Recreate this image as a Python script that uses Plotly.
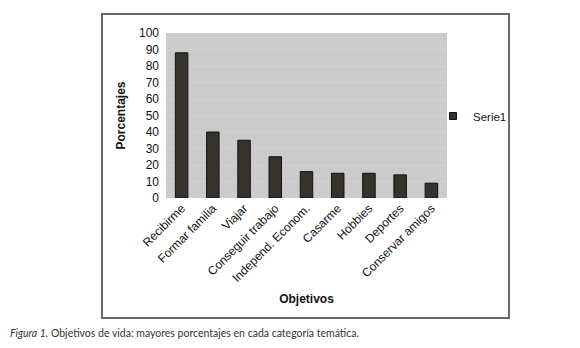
import plotly.graph_objects as go

categorias = ["Recibirme", "Formar familia", "Viajar", "Conseguir trabajo",
              "Independ. Econom.", "Casarme", "Hobbies", "Deportes", "Conservar amigos"]
valores = [88, 40, 35, 25, 16, 15, 15, 14, 9]
y_ticks = [0, 10, 20, 30, 40, 50, 60, 70, 80, 90, 100]
serie = "Serie1"

# page body has an 8px margin, so figure coords = screen coords - 8
L, T, W, H = 158, 25, 281, 165

fig = go.Figure()
fig.add_trace(go.Bar(
    x=categorias, y=valores, name=serie, showlegend=False,
    marker=dict(color="#35332b", line=dict(color="#111111", width=1)),
))
fig.add_trace(go.Scatter(
    x=[None], y=[None], mode="markers", name=serie,
    marker=dict(symbol="square", size=7, color="#35332b", line=dict(color="#111111", width=1)),
))

def px(xp):
    return (xp - L) / W

def py(yp):
    return (T + H - yp) / H

fig.update_layout(
    width=580, height=348,
    paper_bgcolor="white", plot_bgcolor="#cbcbcb",
    margin=dict(l=L, r=580 - L - W, t=T, b=348 - T - H, autoexpand=False),
    bargap=0.6,
    font=dict(family="Liberation Sans, Arial", size=12, color="#111111"),
    showlegend=True,
    legend=dict(x=px(425), y=py(108), xanchor="left", yanchor="middle",
                bgcolor="rgba(0,0,0,0)", borderwidth=0,
                font=dict(size=11.5, color="#111111"), itemwidth=30),
    xaxis=dict(tickangle=-45, showgrid=False, ticks="", showline=False,
               title=dict(text="<b>Objetivos</b>", font=dict(size=12), standoff=10),
               tickfont=dict(size=12)),
    yaxis=dict(range=[0, 100], tickvals=y_ticks, ticks="", showline=False,
               gridcolor="#d2d2d2", gridwidth=1, zeroline=False,
               title=dict(text="<b>Porcentajes</b>", font=dict(size=12), standoff=10),
               tickfont=dict(size=12), ticklabelstandoff=6),
)

fig.add_shape(type="rect", xref="paper", yref="paper",
              x0=px(94), x1=px(501), y0=py(310), y1=py(6),
              line=dict(color="#6a6a6a", width=2), layer="below")

fig.add_annotation(xref="paper", yref="paper", x=px(0), y=py(325),
                   xanchor="left", yanchor="middle", showarrow=False,
                   text="<i>Figura 1.</i> Objetivos de vida: mayores porcentajes en cada categoría temática.",
                   font=dict(family="Lato, Noto Sans", size=10.5, color="#333333"))

fig.write_html("out.html")
